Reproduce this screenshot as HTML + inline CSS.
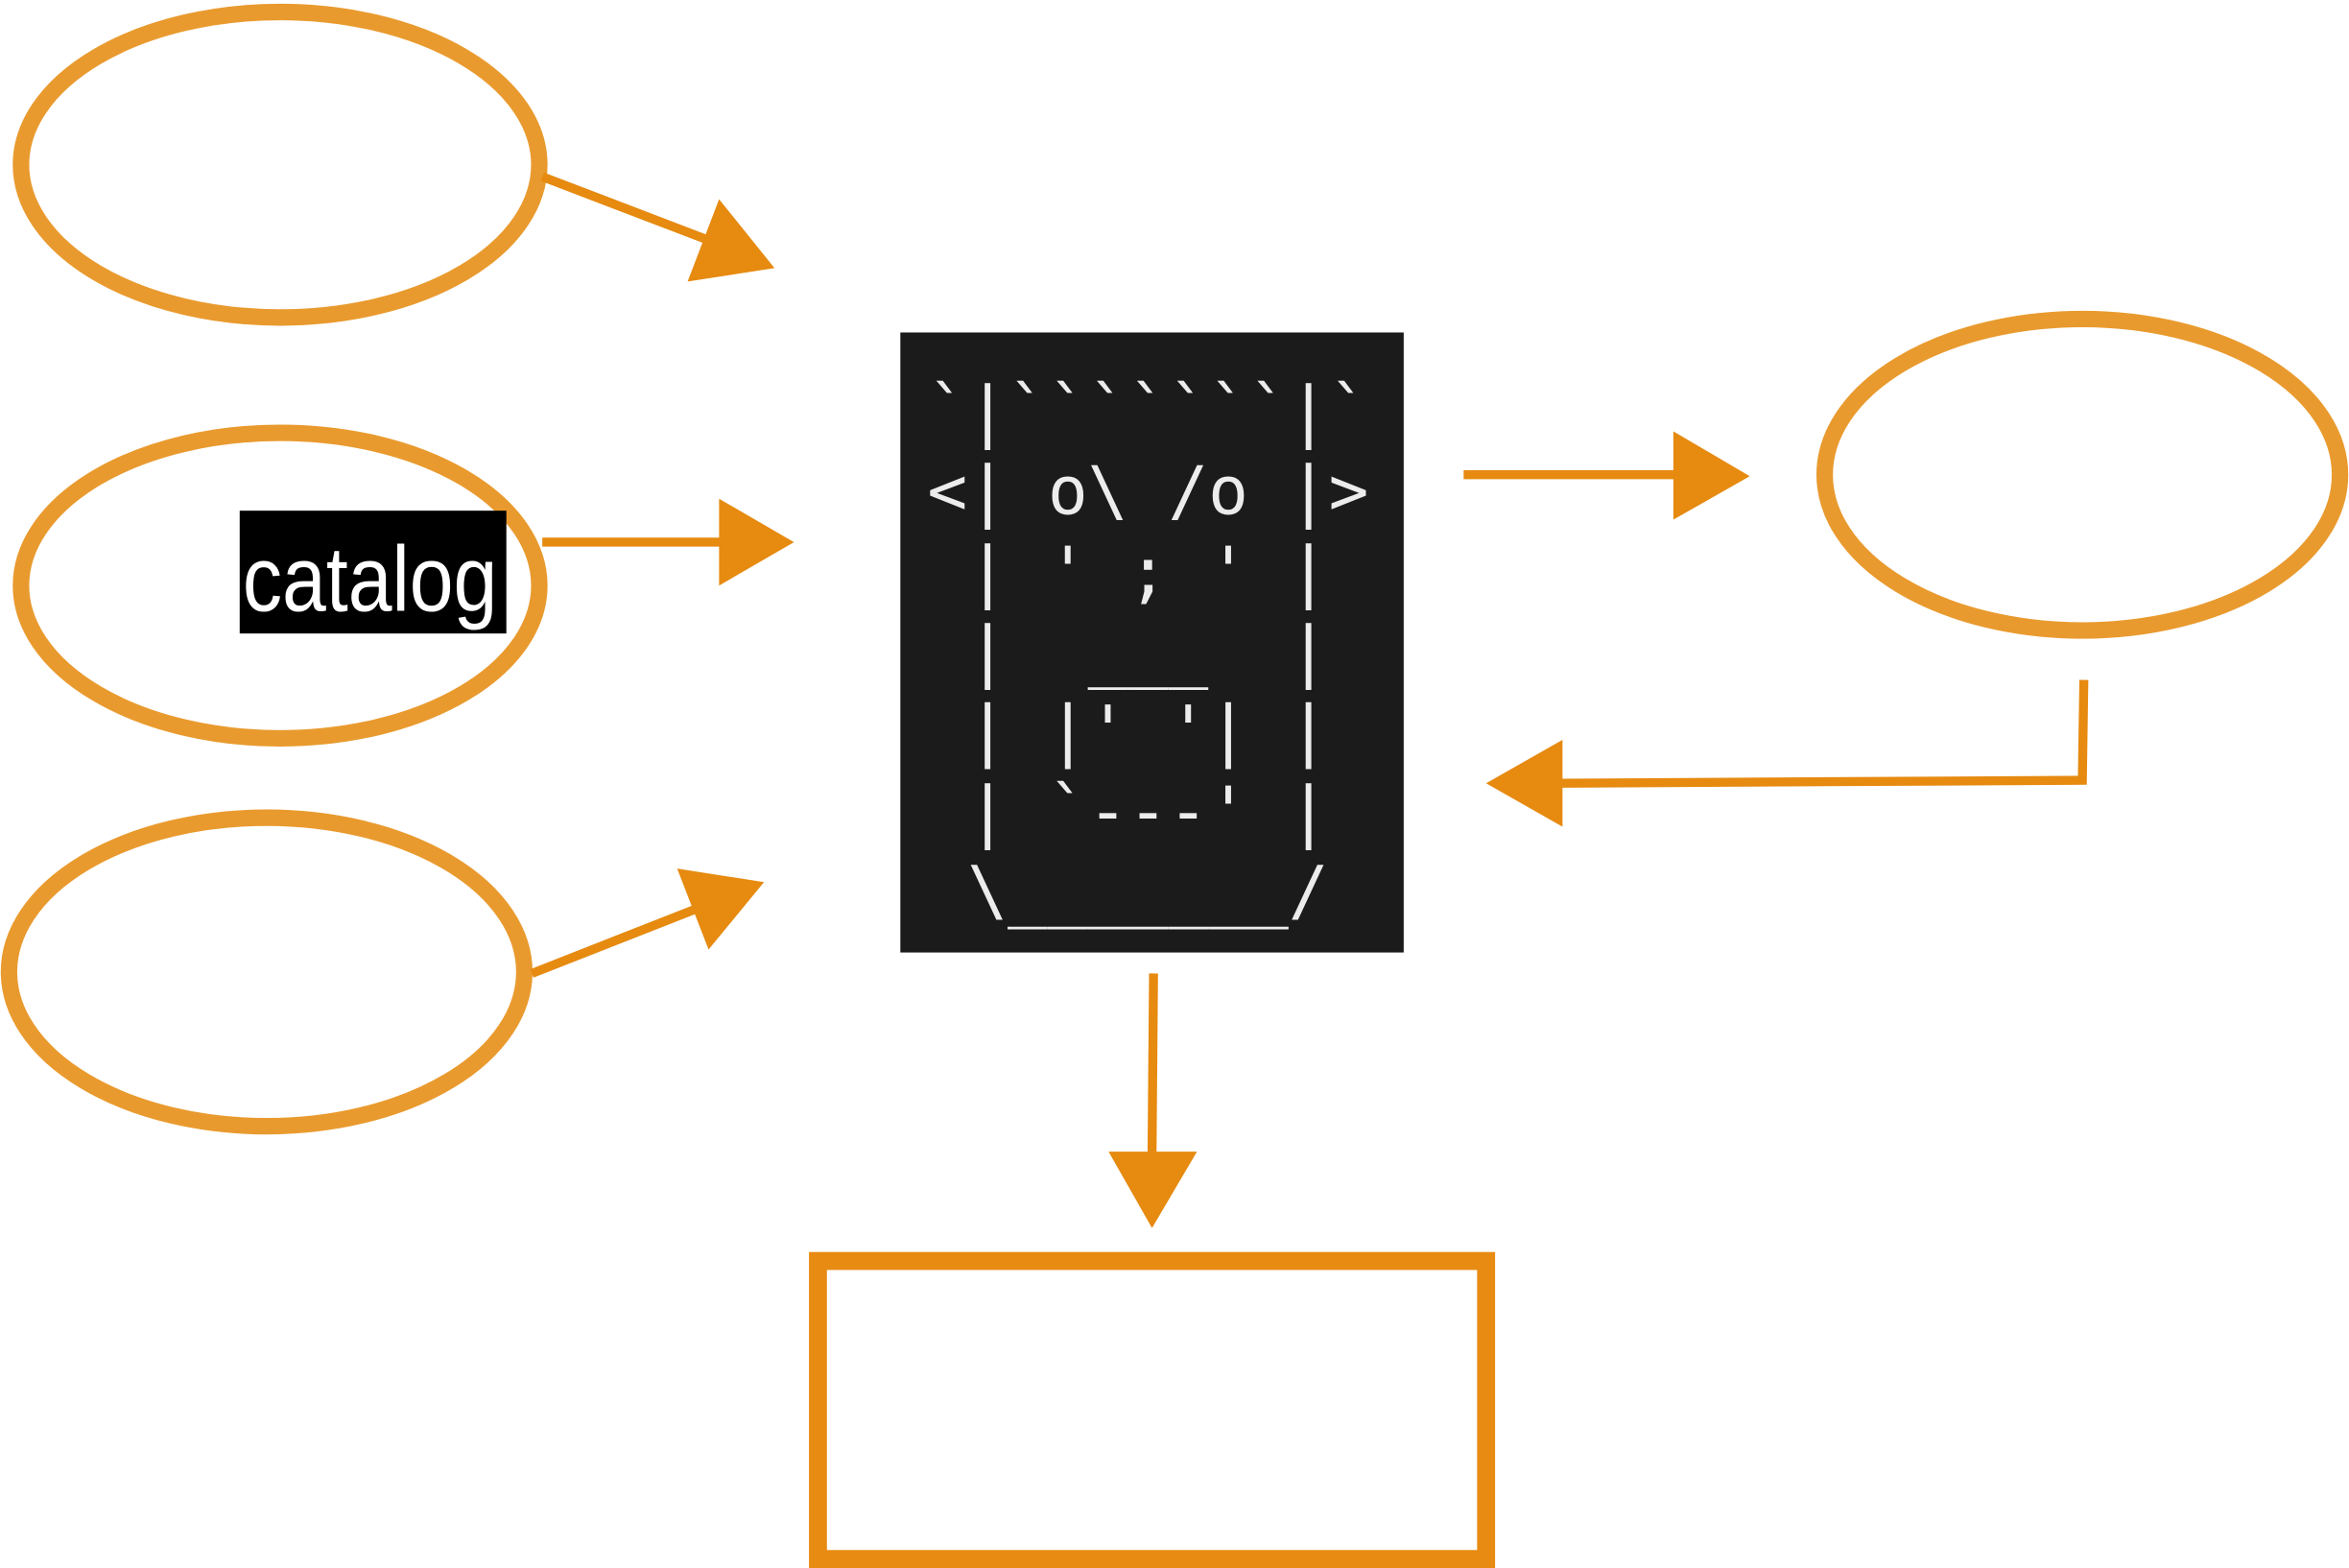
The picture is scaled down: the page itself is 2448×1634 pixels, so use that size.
<!DOCTYPE html>
<html><head><meta charset="utf-8"><style>
html,body{margin:0;padding:0;background:#fff;}
svg{display:block;}
text{white-space:pre;}
</style></head><body>
<svg width="2448" height="1634" viewBox="0 0 1568 1047" preserveAspectRatio="none" xmlns="http://www.w3.org/2000/svg">
<g fill="none" stroke="#E99A2E" stroke-width="11">
<ellipse cx="187" cy="110" rx="173" ry="102"/>
<ellipse cx="187" cy="391" rx="173" ry="102"/>
<ellipse cx="178" cy="649" rx="172" ry="103"/>
<ellipse cx="1390" cy="317" rx="172" ry="104"/>
</g>
<rect x="546" y="842" width="446" height="199" fill="none" stroke="#E88B12" stroke-width="12"/>
<rect x="601" y="222" width="336" height="414" fill="#1b1b1b"/>
<g font-family="'DejaVu Sans Mono','Liberation Mono',monospace" font-size="44.5" fill="#ececec">
<text x="619" y="290">&#96;|&#96;&#96;&#96;&#96;&#96;&#96;&#96;|&#96;</text>
<text x="619" y="343">&lt;|&#160;o\&#160;/o&#160;|&gt;</text>
<text x="619" y="397">&#160;|&#160;'&#160;;&#160;'&#160;|</text>
<text x="619" y="450">&#160;|&#160;&#160;___&#160;&#160;|</text>
<text x="619" y="503">&#160;|&#160;|'&#160;'|&#160;|</text>
<text x="619" y="557">&#160;|&#160;&#96;---'&#160;|</text>
<text x="619" y="610">&#160;\_______/</text>
</g>
<g stroke="#E68A10" stroke-width="6" fill="none">
<line x1="362" y1="118" x2="472" y2="160"/>
<line x1="362" y1="362" x2="482" y2="362"/>
<line x1="355" y1="650" x2="467" y2="606"/>
<line x1="977" y1="317" x2="1119" y2="317"/>
<polyline points="1391,454 1390,521 1041,523"/>
<line x1="770" y1="650" x2="769" y2="771"/>
</g>
<g fill="#E68A10">
<polygon points="480,133 517,179 459,188"/>
<polygon points="480,333 530,362 480,391"/>
<polygon points="452,580 510,589 473,634"/>
<polygon points="1117,288 1168,318 1117,347"/>
<polygon points="1043,494 992,523 1043,552"/>
<polygon points="740,769 799,769 769,820"/>
</g>
<rect x="160" y="341" width="178" height="82" fill="#000"/>
<text x="162" y="408" font-family="'Liberation Sans',sans-serif" font-size="62" fill="#fff" textLength="170" lengthAdjust="spacingAndGlyphs">catalog</text>
</svg>
</body></html>
